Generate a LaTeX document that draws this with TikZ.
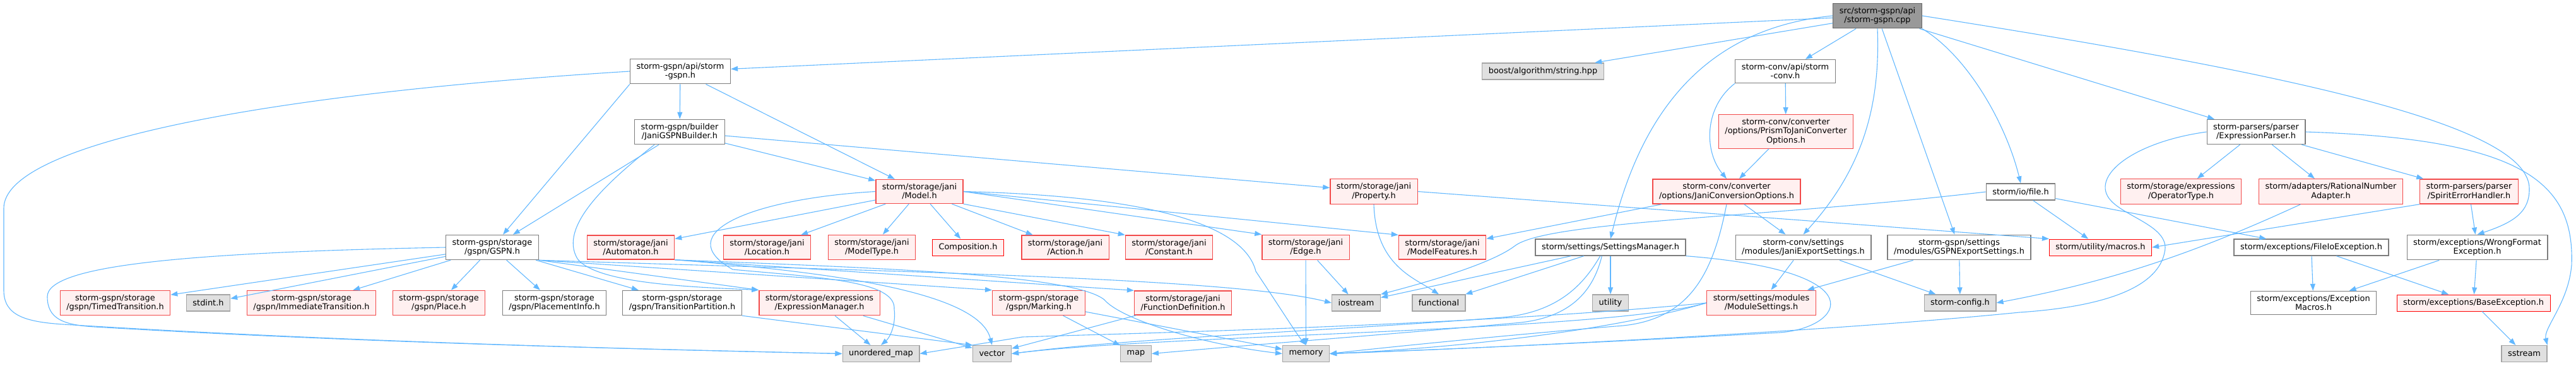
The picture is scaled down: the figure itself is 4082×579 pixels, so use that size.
\documentclass[tikz,border=0pt]{standalone}
\usepackage{fontspec}
\setmainfont{DejaVu Sans}
\usepackage{xcolor}
\usepackage{tikz}
\usetikzlibrary{arrows.meta}
\definecolor{IncBlue}{RGB}{99,184,255}
\definecolor{TruncRed}{RGB}{242,74,74}
\definecolor{TruncFill}{RGB}{255,240,240}
\definecolor{SysFill}{RGB}{224,224,224}
\definecolor{SysLine}{RGB}{165,165,165}
\definecolor{FileLine}{RGB}{125,125,125}
\definecolor{RootFill}{RGB}{153,153,153}
\definecolor{RootLine}{RGB}{102,102,102}

\tikzset{
  box/.style={draw, line width=1.3pt, align=center, inner xsep=10pt, inner ysep=6.4pt,
    minimum height=26pt, font=\fontsize{12.9}{14.3}\selectfont},
  filebox/.style={box, draw=FileLine, fill=white},
  truncbox/.style={box, draw=TruncRed, fill=TruncFill},
  redbox/.style={box, draw=red, line width=1pt, fill=TruncFill},
  sysbox/.style={box, draw=SysLine, fill=SysFill},
  rootbox/.style={box, draw=RootLine, fill=RootFill},
  dep/.style={draw=IncBlue, line width=1.1pt, -{Triangle[length=11pt,width=8pt]}},
}

\begin{document}
\begin{tikzpicture}[x=1pt, y=-1pt]
  \useasboundingbox (0,0) rectangle (4082,579);

  % top rows
  \node[rootbox] (cpp) at (2975,25) {src/storm-gspn/api\\/storm-gspn.cpp};
  \node[filebox] (gspnapi) at (1078,113) {storm-gspn/api/storm\\-gspn.h};
  \node[sysbox] (boost) at (2445,113) {boost/algorithm/string.hpp};
  \node[filebox] (convapi) at (2829,113) {storm-conv/api/storm\\-conv.h};
  \node[filebox] (builder) at (1077,209) {storm-gspn/builder\\/JaniGSPNBuilder.h};
  \node[truncbox] (prismopt) at (2830,208.5) {storm-conv/converter\\/options/PrismToJaniConverter\\Options.h};
  \node[filebox] (exprparser) at (3575,209) {storm-parsers/parser\\/ExpressionParser.h};

  \node[truncbox] (model) at (1457,303.5) {storm/storage/jani\\/Model.h};
  \node[truncbox] (property) at (2177,303.5) {storm/storage/jani\\/Property.h};
  \node[truncbox] (janiconv) at (2736,303.5) {storm-conv/converter\\/options/JaniConversionOptions.h};
  \node[filebox] (iofile) at (3202,304) {storm/io/file.h};
  \node[truncbox] (optype) at (3456,303.5) {storm/storage/expressions\\/OperatorType.h};
  \node[truncbox] (rational) at (3693.5,303.5) {storm/adapters/RationalNumber\\Adapter.h};
  \node[truncbox] (spirit) at (3912.5,303.5) {storm-parsers/parser\\/SpiritErrorHandler.h};

  \node[filebox] (gspn) at (780,392) {storm-gspn/storage\\/gspn/GSPN.h};
  \node[truncbox] (automaton) at (999.5,392) {storm/storage/jani\\/Automaton.h};
  \node[truncbox] (location) at (1215.5,392) {storm/storage/jani\\/Location.h};
  \node[truncbox] (modeltype) at (1381.5,392) {storm/storage/jani\\/ModelType.h};
  \node[redbox] (composition) at (1534,392) {Composition.h};
  \node[truncbox] (action) at (1688,392) {storm/storage/jani\\/Action.h};
  \node[truncbox] (constant) at (1852.5,392) {storm/storage/jani\\/Constant.h};
  \node[truncbox] (edge) at (2069,392) {storm/storage/jani\\/Edge.h};
  \node[truncbox] (modelfeat) at (2285.5,392) {storm/storage/jani\\/ModelFeatures.h};
  \node[filebox] (settings) at (2552,392) {storm/settings/SettingsManager.h};
  \node[filebox] (janiexp) at (2857.5,392) {storm-conv/settings\\/modules/JaniExportSettings.h};
  \node[filebox] (gspnexp) at (3104.5,392) {storm-gspn/settings\\/modules/GSPNExportSettings.h};
  \node[redbox] (macros) at (3328.5,392) {storm/utility/macros.h};
  \node[filebox] (fileio) at (3662.5,392) {storm/exceptions/FileIoException.h};
  \node[filebox] (wrongfmt) at (3925.5,392) {storm/exceptions/WrongFormat\\Exception.h};

  % lower rows
  \node[truncbox] (timed) at (182.5,480) {storm-gspn/storage\\/gspn/TimedTransition.h};
  \node[sysbox] (stdint) at (330,480) {stdint.h};
  \node[truncbox] (immediate) at (493.5,480) {storm-gspn/storage\\/gspn/ImmediateTransition.h};
  \node[truncbox] (place) at (695.5,480) {storm-gspn/storage\\/gspn/Place.h};
  \node[filebox] (placement) at (878.5,480) {storm-gspn/storage\\/gspn/PlacementInfo.h};
  \node[filebox] (partition) at (1081,480) {storm-gspn/storage\\/gspn/TransitionPartition.h};
  \node[truncbox] (exprmgr) at (1298.5,480) {storm/storage/expressions\\/ExpressionManager.h};
  \node[truncbox] (marking) at (1646,480) {storm-gspn/storage\\/gspn/Marking.h};
  \node[truncbox] (funcdef) at (1874.5,480) {storm/storage/jani\\/FunctionDefinition.h};
  \node[sysbox] (iostream) at (2149,480) {iostream};
  \node[sysbox] (functional) at (2280,480) {functional};
  \node[sysbox] (utility) at (2552,480) {utility};
  \node[truncbox] (modset) at (2791,480) {storm/settings/modules\\/ModuleSettings.h};
  \node[sysbox] (config) at (3106,480) {storm-config.h};
  \node[filebox] (excmacros) at (3666,480) {storm/exceptions/Exception\\Macros.h};
  \node[redbox] (baseexc) at (3919.5,480) {storm/exceptions/BaseException.h};

  \node[sysbox] (unordmap) at (1396,560.5) {unordered\_map};
  \node[sysbox] (vector) at (1572,560.5) {vector};
  \node[sysbox] (map) at (1800,560.5) {map};
  \node[sysbox] (memory) at (2069.5,560.5) {memory};
  \node[sysbox] (sstream) at (4000,560.5) {sstream};

  % includes of the source file
  \draw[dep] (cpp) -- (gspnapi);
  \draw[dep] (cpp) -- (boost);
  \draw[dep] (cpp) -- (convapi);
  \draw[dep] (cpp) -- (gspnexp);
  \draw[dep] (cpp) -- (exprparser);
  \draw[dep] (cpp.west) .. controls (2700,45) and (2600,180) .. (settings.north);
  \draw[dep] (cpp.south) .. controls (2980,170) and (2950,270) .. (janiexp.north);
  \draw[dep] (cpp.south east) .. controls (3120,90) and (3180,200) .. (iofile.north);
  \draw[dep] (cpp.east) .. controls (3650,120) and (4010,200) .. (4008,300)
    .. controls (4008,335) and (3985,352) .. (wrongfmt.north);

  % storm-gspn side
  \draw[dep] (gspnapi.south west) -- (gspn);
  \draw[dep] (gspnapi) -- (builder);
  \draw[dep] (gspnapi) -- (model);
  \draw[dep] (gspnapi.west) .. controls (400,150) and (6,230) .. (6,330) -- (6,460)
    .. controls (6,500) and (40,510) .. (100,514)
    .. controls (600,545) and (1100,555) .. (unordmap.west);
  \draw[dep] (builder) -- (gspn);
  \draw[dep] (builder) -- (model);
  \draw[dep] (builder) -- (property);
  \draw[dep] (builder.-153) .. controls (960,290) and (885,360) .. (915,410)
    .. controls (945,450) and (1100,455) .. (exprmgr.north west);

  \draw[dep] (gspn) -- (timed);
  \draw[dep] (gspn) -- (stdint);
  \draw[dep] (gspn) -- (immediate);
  \draw[dep] (gspn) -- (place);
  \draw[dep] (gspn) -- (placement);
  \draw[dep] (gspn) -- (partition);
  \draw[dep] (gspn.south east) -- (exprmgr.north west);
  \draw[dep] (gspn.south east) -- (marking.north west);
  \draw[dep] (gspn.south east) .. controls (1400,430) and (1950,440) .. (iostream.west);
  \draw[dep] (gspn.west) .. controls (300,400) and (75,420) .. (75,470)
    .. controls (75,505) and (100,515) .. (150,518)
    .. controls (600,545) and (1100,555) .. (unordmap.west);

  % jani model
  \draw[dep] (model) -- (automaton);
  \draw[dep] (model) -- (location);
  \draw[dep] (model) -- (modeltype);
  \draw[dep] (model) -- (composition);
  \draw[dep] (model) -- (action);
  \draw[dep] (model.south east) -- (constant.north west);
  \draw[dep] (model.east) -- (edge.north west);
  \draw[dep] (model.east) -- (modelfeat.north west);
  \draw[dep] (model.west) .. controls (1190,315) and (1060,370) .. (1161,427)
    .. controls (1300,440) and (1420,445) .. (1417,490)
    .. controls (1420,515) and (1410,535) .. (unordmap.north);
  \draw[dep] (model.east) .. controls (1800,310) and (1970,350) .. (1990,430)
    .. controls (2030,490) and (2055,530) .. (memory.north);
  \draw[dep] (automaton.south east) -- (funcdef.north west);
  \draw[dep] (automaton.south east) .. controls (1300,430) and (1550,460) .. (vector.north);
  \draw[dep] (automaton.south east) .. controls (1400,425) and (1700,435) .. (1750,475)
    .. controls (1775,505) and (1900,545) .. (memory.west);
  \draw[dep] (edge) -- (memory);
  \draw[dep] (edge) -- (iostream);
  \draw[dep] (property.east) -- (macros.north west);
  \draw[dep] (property.south) .. controls (2180,420) and (2240,440) .. (functional.north);

  \draw[dep] (exprmgr) -- (unordmap);
  \draw[dep] (exprmgr) -- (vector);
  \draw[dep] (partition.south east) -- (vector.north west);
  \draw[dep] (marking) -- (map);
  \draw[dep] (marking) -- (memory);
  \draw[dep] (funcdef) -- (vector);

  % conversion and settings
  \draw[dep] (convapi) -- (prismopt);
  \draw[dep] (convapi.south west) .. controls (2700,170) and (2700,240) .. (janiconv.north);
  \draw[dep] (prismopt) -- (janiconv);
  \draw[dep] (janiconv) -- (modelfeat);
  \draw[dep] (janiconv) -- (janiexp);
  \draw[dep] (janiconv.south) .. controls (2715,430) and (2680,510) .. (2560,517)
    .. controls (2400,530) and (2200,550) .. (memory.east);
  \draw[dep] (settings) -- (iostream);
  \draw[dep] (settings) -- (functional);
  \draw[dep] (settings) -- (utility);
  \draw[dep] (settings.south east) .. controls (2980,430) and (2920,520) .. (2820,527)
    .. controls (2500,545) and (2250,555) .. (memory.east);
  \draw[dep] (settings.-140) .. controls (2510,450) and (2470,495) .. (2380,503)
    .. controls (2100,525) and (1800,535) .. (vector.east);
  \draw[dep] (settings.-135) .. controls (2525,460) and (2490,505) .. (2400,512)
    .. controls (2200,530) and (2000,545) .. (map.east);
  \draw[dep] (janiexp) -- (modset);
  \draw[dep] (janiexp) -- (config);
  \draw[dep] (gspnexp) -- (modset);
  \draw[dep] (gspnexp) -- (config);
  \draw[dep] (modset.west) .. controls (2550,525) and (2300,552) .. (memory.east);
  \draw[dep] (modset.west) .. controls (2550,525) and (1850,530) .. (vector.east);
  \draw[dep] (modset.west) .. controls (2350,515) and (1800,528) .. (1620,534) -- (unordmap.east);

  % parsers, io and exceptions
  \draw[dep] (exprparser) -- (optype);
  \draw[dep] (exprparser) -- (rational);
  \draw[dep] (exprparser) -- (spirit);
  \draw[dep] (exprparser.east) .. controls (4000,220) and (4080,290) .. (4075,420)
    .. controls (4070,480) and (4030,520) .. (sstream.north east);
  \draw[dep] (exprparser.west) .. controls (3380,225) and (3310,280) .. (3345,318)
    .. controls (3370,345) and (3440,360) .. (3430,400)
    .. controls (3420,450) and (3350,485) .. (3200,495)
    .. controls (2900,525) and (2400,550) .. (memory.east);
  \draw[dep] (rational.-157) .. controls (3480,400) and (3350,445) .. (config.east);
  \draw[dep] (spirit.south west) -- (macros.east);
  \draw[dep] (spirit) -- (wrongfmt);
  \draw[dep] (iofile) -- (macros);
  \draw[dep] (iofile) -- (fileio);
  \draw[dep] (iofile.west) .. controls (2800,345) and (2450,350) .. (2400,390)
    .. controls (2360,420) and (2250,450) .. (iostream.north east);
  \draw[dep] (fileio) -- (excmacros);
  \draw[dep] (fileio) -- (baseexc);
  \draw[dep] (wrongfmt) -- (excmacros);
  \draw[dep] (wrongfmt) -- (baseexc);
  \draw[dep] (baseexc) -- (sstream);
\end{tikzpicture}
\end{document}
